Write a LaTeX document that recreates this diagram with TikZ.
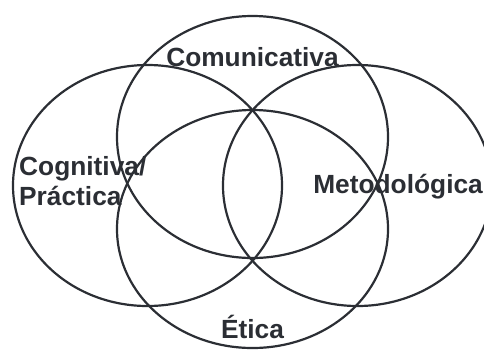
\documentclass[tikz,border=0pt]{standalone}
\usepackage{fontspec}
\setmainfont{Liberation Sans}
\definecolor{ink}{HTML}{2B2E34}
\tikzset{
  ring/.style={draw=ink, line width=2.2pt},
  lbl/.style={text=ink, inner sep=0pt, font=\fontsize{26.3}{30}\selectfont\bfseries}
}
\begin{document}
\begin{tikzpicture}[x=1pt,y=-1pt]
  \useasboundingbox (0,0) rectangle (484,349);
  % the four overlapping ellipses
  \draw [ring] (252.5,137) ellipse [x radius=135.5, y radius=121];
  \draw [ring] (147.5,185.5) ellipse [x radius=134.5, y radius=120.5];
  \draw [ring] (357.5,185.5) ellipse [x radius=134.5, y radius=120.5];
  \draw [ring] (252.5,229) ellipse [x radius=135.5, y radius=119];
  % labels
  \node (com) at (252.5,66.5) [lbl, anchor=base] {Comunicativa};
  \node (cog) at (19,205) [lbl, anchor=base west, align=left] {Cognitiva/\\Práctica};
  \node (met) at (483,193) [lbl, anchor=base east] {Metodológica};
  \node (eti) at (252.5,338) [lbl, anchor=base] {Ética};
\end{tikzpicture}
\end{document}
